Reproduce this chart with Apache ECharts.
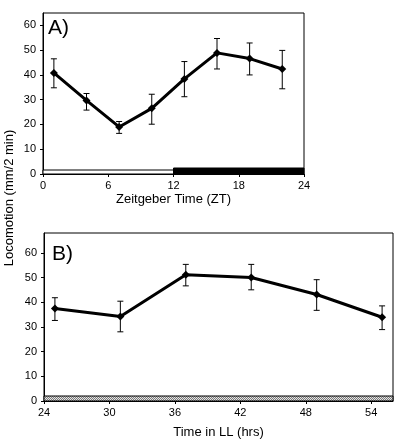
<!DOCTYPE html>
<html>
<head>
<meta charset="utf-8">
<script src="https://cdn.jsdelivr.net/npm/echarts@6/dist/echarts.min.js"></script>
<style>html,body{margin:0;padding:0;background:#fff}#c{width:400px;height:448px}</style>
</head>
<body>
<div id="c"></div>
<script>
// Panel A data (Zeitgeber Time)
var ztX = [1, 4, 7, 10, 13, 16, 19, 22];
var ztMean = [40.8, 29.7, 19.0, 26.5, 38.4, 48.9, 46.6, 42.4];
var ztHigh = [46.5, 32.5, 21.2, 32.2, 45.4, 54.7, 52.9, 49.9];
var ztLow = [34.8, 25.8, 16.4, 20.1, 31.2, 42.4, 40.0, 34.4];
var ztTicks = [0, 6, 12, 18, 24];
var lightPhase = [0, 12];
var darkPhase = [12, 24];

// Panel B data (Time in LL)
var llX = [25, 31, 37, 43, 49, 55];
var llMean = [37.4, 34.2, 51.1, 50.0, 43.1, 33.9];
var llHigh = [41.8, 40.4, 55.3, 55.3, 49.1, 38.5];
var llLow = [32.6, 28.0, 46.6, 45.0, 36.7, 28.9];
var llTicks = [24, 30, 36, 42, 48, 54];
var constantLight = [24, 56];

var yTicks = [0, 10, 20, 30, 40, 50, 60];

var FONT = '"Liberation Sans", Arial, Helvetica, sans-serif';

function zip(a, b) { return a.map(function (v, i) { return [v, b[i]]; }); }
function zip3(a, b, c) { return a.map(function (v, i) { return [v, b[i], c[i]]; }); }

// hatched pattern
var pc = document.createElement('canvas');
pc.width = 2; pc.height = 2;
var pctx = pc.getContext('2d');
pctx.fillStyle = '#e4e4e4'; pctx.fillRect(0, 0, 2, 2);
pctx.fillStyle = '#7a7a7a'; pctx.fillRect(0, 0, 1, 1); pctx.fillRect(1, 1, 1, 1);

function errRender(params, api) {
  var x = api.value(0);
  var lo = api.coord([x, api.value(1)]);
  var hi = api.coord([x, api.value(2)]);
  var w = 3;
  var st = { stroke: '#000', lineWidth: 1 };
  return {
    type: 'group',
    children: [
      { type: 'line', shape: { x1: lo[0], y1: lo[1], x2: hi[0], y2: hi[1] }, style: st },
      { type: 'line', shape: { x1: lo[0] - w, y1: lo[1], x2: lo[0] + w, y2: lo[1] }, style: st },
      { type: 'line', shape: { x1: hi[0] - w, y1: hi[1], x2: hi[0] + w, y2: hi[1] }, style: st }
    ]
  };
}

function barRender(fill, hpx) {
  return function (params, api) {
    var p0 = api.coord([api.value(0), 0]);
    var p1 = api.coord([api.value(1), 0]);
    return {
      type: 'rect',
      shape: { x: p0[0], y: p0[1] - hpx, width: p1[0] - p0[0], height: hpx },
      style: { fill: fill, stroke: '#000', lineWidth: 1 }
    };
  };
}

function xAxisCfg(idx, min, max, name, gap, ticks) {
  return {
    type: 'value', gridIndex: idx, min: min, max: max, interval: 6,
    name: name, nameLocation: 'middle', nameGap: gap,
    nameTextStyle: { fontFamily: FONT, fontSize: 13, color: '#000' },
    axisLine: { show: true, lineStyle: { color: '#000', width: 1 } },
    axisTick: { show: true, length: 3, lineStyle: { color: '#000' } },
    axisLabel: { fontFamily: FONT, fontSize: 11, color: '#000', margin: 6, showMaxLabel: ticks.indexOf(max) >= 0,
      formatter: function (v) { return ticks.indexOf(v) >= 0 ? String(v) : ''; } },
    splitLine: { show: false }
  };
}
function yAxisCfg(idx, max) {
  return {
    type: 'value', gridIndex: idx, min: 0, max: max, interval: 10,
    axisLine: { show: true, lineStyle: { color: '#000', width: 1 } },
    axisTick: { show: true, length: 3, lineStyle: { color: '#000' } },
    axisLabel: { fontFamily: FONT, fontSize: 11, color: '#000', margin: 7, showMaxLabel: false,
      formatter: function (v) { return yTicks.indexOf(v) >= 0 ? String(v) : ''; } },
    splitLine: { show: false }
  };
}

var chart = echarts.init(document.getElementById('c'), null, { renderer: 'canvas' });
chart.setOption({
  animation: false,
  backgroundColor: '#fff',
  grid: [
    { left: 43, right: 96, top: 13, bottom: 274, show: true, borderColor: '#000', borderWidth: 1 },
    { left: 44, right: 7, top: 233, bottom: 47, show: true, borderColor: '#000', borderWidth: 1 }
  ],
  xAxis: [
    xAxisCfg(0, 0, 24, 'Zeitgeber Time (ZT)', 19, ztTicks),
    xAxisCfg(1, 24, 56, 'Time in LL (hrs)', 25, llTicks)
  ],
  yAxis: [yAxisCfg(0, 65), yAxisCfg(1, 68)],
  graphic: [
    { type: 'text', left: 48, top: 18, style: { text: 'A)', font: '21px ' + FONT, fill: '#000' } },
    { type: 'text', left: 52, top: 244, style: { text: 'B)', font: '21px ' + FONT, fill: '#000' } },
    { type: 'text', x: 9, y: 198, rotation: Math.PI / 2,
      style: { text: 'Locomotion (mm/2 min)', font: '13px ' + FONT, fill: '#000', align: 'center', verticalAlign: 'middle' } }
  ],
  series: [
    { type: 'custom', xAxisIndex: 0, yAxisIndex: 0, renderItem: barRender('#fff', 4), data: [lightPhase], z: 1 },
    { type: 'custom', xAxisIndex: 0, yAxisIndex: 0, renderItem: barRender('#000', 6), data: [darkPhase], z: 1 },
    { type: 'custom', xAxisIndex: 1, yAxisIndex: 1,
      renderItem: barRender({ image: pc, repeat: 'repeat' }, 5), data: [constantLight], z: 1 },
    { type: 'custom', xAxisIndex: 0, yAxisIndex: 0, renderItem: errRender, data: zip3(ztX, ztLow, ztHigh), z: 2 },
    { type: 'custom', xAxisIndex: 1, yAxisIndex: 1, renderItem: errRender, data: zip3(llX, llLow, llHigh), z: 2 },
    { type: 'line', xAxisIndex: 0, yAxisIndex: 0, data: zip(ztX, ztMean), symbol: 'diamond', symbolSize: 8,
      lineStyle: { color: '#000', width: 3 }, itemStyle: { color: '#000' }, z: 3 },
    { type: 'line', xAxisIndex: 1, yAxisIndex: 1, data: zip(llX, llMean), symbol: 'diamond', symbolSize: 8,
      lineStyle: { color: '#000', width: 3 }, itemStyle: { color: '#000' }, z: 3 }
  ]
});
</script>
</body>
</html>
